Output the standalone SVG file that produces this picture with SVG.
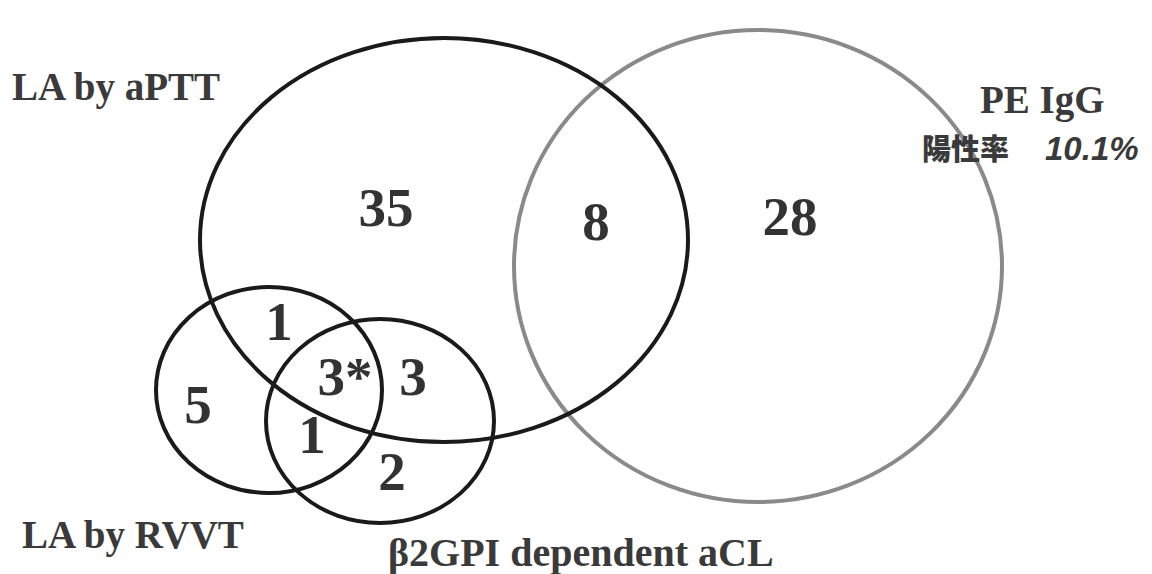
<svg xmlns="http://www.w3.org/2000/svg" width="1152" height="574" viewBox="0 0 1152 574">
<style>
.c{fill:none;stroke:#1a1a1a;stroke-width:4}
.g{fill:none;stroke:#8a8a8a;stroke-width:4}
.n{font-family:"Liberation Serif",serif;font-weight:bold;font-size:55px;fill:#333;text-anchor:middle}
.l{font-family:"Liberation Serif",serif;font-weight:bold;font-size:39px;fill:#3a3a3a}
.j{font-family:"Noto Sans CJK JP",sans-serif;font-weight:900;font-size:29px;fill:#3a3a3a}
.p{font-family:"Liberation Sans",sans-serif;font-weight:bold;font-style:italic;font-size:33px;fill:#3a3a3a}
</style>
<rect width="1152" height="574" fill="#fff"/>
<g id="connectors"></g>
<g id="pe-igg"><ellipse class="g" cx="758" cy="266" rx="244" ry="236"/>
<text class="l" x="980" y="113">PE IgG</text>
<text x="922" y="160"><tspan class="j">陽性率</tspan><tspan class="p" dx="36">10.1%</tspan></text></g>
<g id="la-aptt"><ellipse class="c" cx="444" cy="240" rx="244" ry="202"/>
<text class="l" x="12" y="100">LA by aPTT</text></g>
<g id="la-rvvt"><ellipse class="c" cx="269" cy="390" rx="113" ry="103"/>
<text class="l" x="22" y="548">LA by RVVT</text></g>
<g id="b2gpi"><ellipse class="c" cx="380" cy="421" rx="114" ry="102"/>
<text class="l" x="388" y="566" style="font-size:40px">β2GPI dependent aCL</text></g>
<g id="counts">
<text class="n" x="386" y="226">35</text>
<text class="n" x="596" y="240">8</text>
<text class="n" x="790" y="235">28</text>
<text class="n" x="279" y="340">1</text>
<text class="n" x="198" y="423">5</text>
<text class="n" x="345" y="395">3*</text>
<text class="n" x="413" y="395">3</text>
<text class="n" x="312" y="453">1</text>
<text class="n" x="392" y="490">2</text>
</g>
</svg>
